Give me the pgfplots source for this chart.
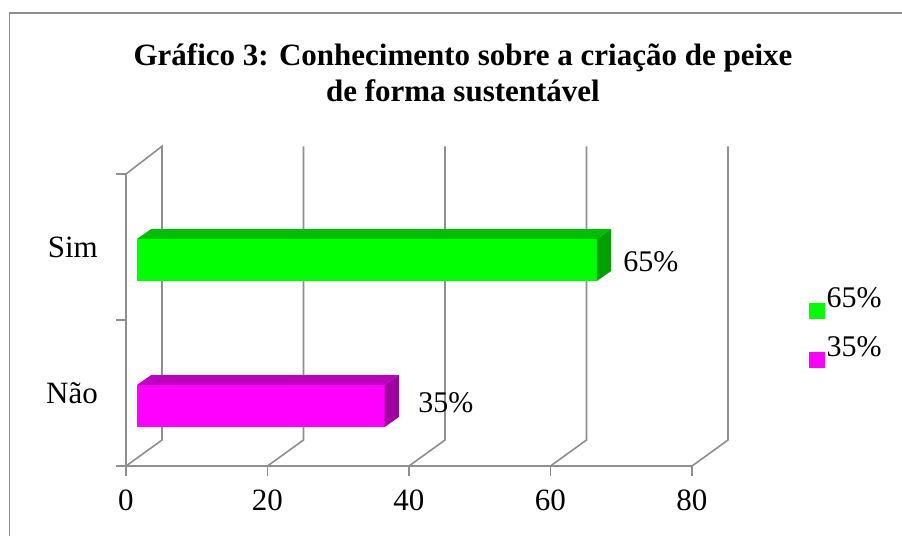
\documentclass[border=0pt]{standalone}
\usepackage{fontspec}
\setmainfont{Liberation Serif}
\usepackage{pgfplots}
\pgfplotsset{compat=1.18}
\definecolor{gridg}{HTML}{8E8E8E}
\definecolor{gF}{HTML}{00FF00}
\definecolor{gT}{HTML}{00BE00}
\definecolor{gS}{HTML}{00A000}
\definecolor{mF}{HTML}{FF00FF}
\definecolor{mT}{HTML}{BE00BE}
\definecolor{mS}{HTML}{A000A0}
\begin{document}
\begin{tikzpicture}
\useasboundingbox (-126pt,-70pt) rectangle (776pt,466pt);
\draw[gridg,line width=1.6pt] (-116.5pt,-70pt) -- (-116.5pt,453pt) -- (776pt,453pt);
\begin{axis}[
  scale only axis, width=566pt, height=292pt,
  xmin=0, xmax=80, ymin=0, ymax=2,
  clip=false,
  axis lines=left,
  axis line style={gridg,line width=1.6pt,-},
  tick style={gridg,line width=1.6pt},
  tick align=outside,
  major tick length=10pt,
  xtick={0,20,40,60,80},
  ytick={0,1,2}, yticklabels={,,},
  extra y ticks={0.5,1.5},
  extra y tick labels={Não,Sim},
  extra y tick style={major tick length=0pt},
  yticklabel style={inner sep=0pt,xshift=-28pt},
  xticklabel style={inner sep=0pt,yshift=-14pt},
  tick label style={font=\fontsize{31}{36}\selectfont},
  /pgf/number format/assume math mode=true,
  legend style={draw=none,fill=none,inner sep=0pt,at={(axis cs:96.46,0.955)},anchor=west,
    font=\fontsize{30}{36}\selectfont,row sep=15pt},
  legend cell align=left,
]
% back walls
\addplot[gridg,line width=1.6pt,forget plot] coordinates {(0,2) (5.09,2.19) (5.09,0.178) (0,0)};
\addplot[gridg,line width=1.6pt,forget plot] coordinates {(20,0) (25.09,0.178) (25.09,2.19)};
\addplot[gridg,line width=1.6pt,forget plot] coordinates {(40,0) (45.09,0.178) (45.09,2.19)};
\addplot[gridg,line width=1.6pt,forget plot] coordinates {(60,0) (65.09,0.178) (65.09,2.19)};
\addplot[gridg,line width=1.6pt,forget plot] coordinates {(80,0) (85.09,0.178) (85.09,2.19)};
% Sim
\addplot[xbar,bar width=42pt,bar shift=0pt,fill=gF,draw=none,shift={(11pt,-13pt)},
  legend image code/.code={\fill[gF] (0pt,-8pt) rectangle (16pt,8pt);}] coordinates {(65,1.5)};
\addlegendentry{65\%}
\addplot[fill=gT,draw=none,forget plot,shift={(11pt,-13pt)}] coordinates {(0,1.644) (65,1.644) (67,1.712) (2,1.712)} -- cycle;
\addplot[fill=gS,draw=none,forget plot,shift={(11pt,-13pt)}] coordinates {(65,1.356) (65,1.644) (67,1.712) (67,1.424)} -- cycle;
% Não
\addplot[xbar,bar width=42pt,bar shift=0pt,fill=mF,draw=none,shift={(11pt,-13pt)},
  legend image code/.code={\fill[mF] (0pt,-8pt) rectangle (16pt,8pt);}] coordinates {(35,0.5)};
\addlegendentry{35\%}
\addplot[fill=mT,draw=none,forget plot,shift={(11pt,-13pt)}] coordinates {(0,0.644) (35,0.644) (37,0.712) (2,0.712)} -- cycle;
\addplot[fill=mS,draw=none,forget plot,shift={(11pt,-13pt)}] coordinates {(35,0.356) (35,0.644) (37,0.712) (37,0.424)} -- cycle;
\node[font=\fontsize{30}{36}\selectfont] at (axis cs:74.2,1.397) {65\%};
\node[font=\fontsize{30}{36}\selectfont] at (axis cs:45.2,0.432) {35\%};
\end{axis}
\node[font=\fontsize{31}{36}\selectfont\bfseries,align=center,inner sep=0pt] at (337pt,393pt)
  {Gráfico 3: Conhecimento sobre a criação de peixe\\de forma sustentável};
\end{tikzpicture}
\end{document}
